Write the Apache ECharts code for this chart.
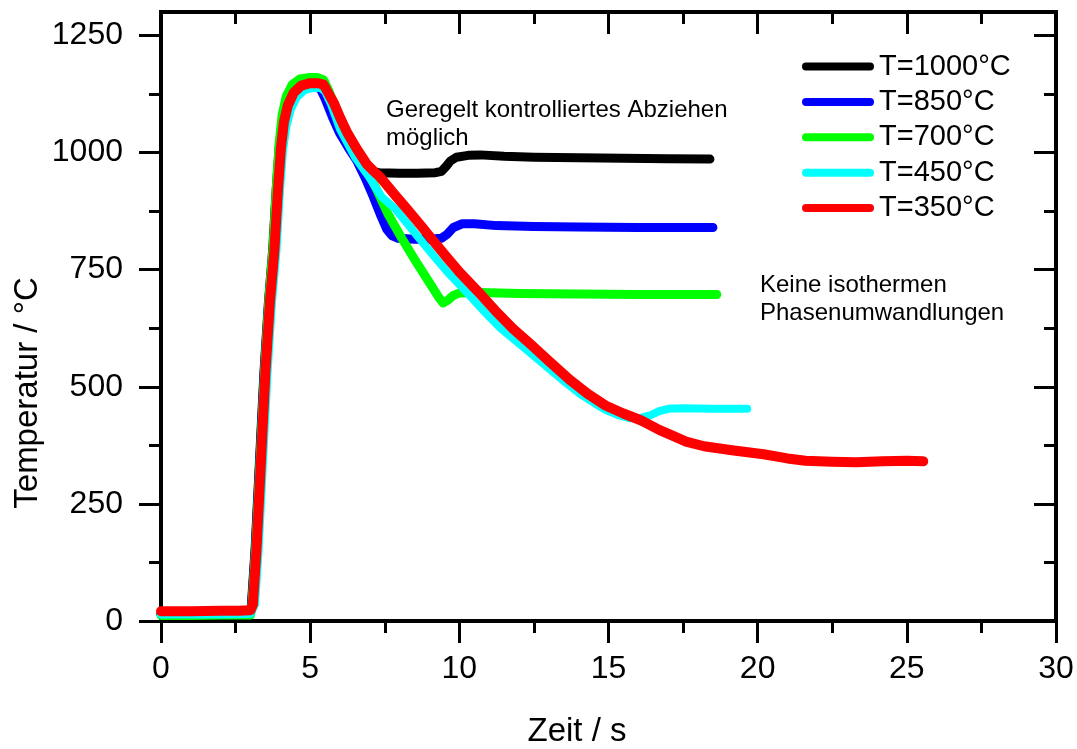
<!DOCTYPE html>
<html>
<head>
<meta charset="utf-8">
<script src="https://cdn.jsdelivr.net/npm/echarts@6/dist/echarts.min.js"></script>
<style>
  html, body { margin: 0; padding: 0; background: #fff; }
  #chart { width: 1077px; height: 749px; }
</style>
</head>
<body>
<div id="chart"></div>
<script>
// Temperature curves [time in s, temperature in °C]
const t1000 = [[0,15],[1,15],[2,15],[3.0,16],[3.03,35],[3.15,150],[3.3,340],[3.45,530],[3.6,680],[3.74,790],[3.86,920],[3.96,1010],[4.06,1065],[4.2,1098],[4.4,1122],[4.65,1136],[4.95,1140],[5.25,1140],[5.45,1138],[5.6,1125],[5.8,1102],[6.0,1072],[6.22,1042],[6.56,1005],[6.9,972],[7.1,960],[7.3,957],[8.0,956],[8.6,956],[9.2,957],[9.4,960],[9.55,970],[9.7,982],[9.9,990],[10.3,994],[10.7,995],[11.5,992],[12.5,990],[14,989],[15.5,988],[17,987],[18.4,986]];
const t850 = [[0,15],[1,15],[2,15],[3.0,16],[3.04,35],[3.16,150],[3.31,340],[3.46,530],[3.61,680],[3.76,790],[3.88,920],[3.98,1010],[4.08,1065],[4.22,1098],[4.42,1122],[4.67,1136],[4.95,1140],[5.2,1140],[5.35,1135],[5.5,1115],[5.75,1075],[6.0,1040],[6.3,1008],[6.56,983],[6.85,945],[7.12,905],[7.35,868],[7.57,836],[7.75,822],[7.95,817],[8.5,815],[9.0,815],[9.4,817],[9.6,826],[9.8,840],[10.1,848],[10.5,848],[11.25,844],[12.5,842],[14,841],[16,840],[18.5,840]];
const t700 = [[0,12],[1,12],[2,13],[3.0,13],[3.05,35],[3.17,150],[3.32,340],[3.47,530],[3.62,690],[3.76,800],[3.87,930],[3.96,1020],[4.06,1080],[4.2,1120],[4.4,1145],[4.65,1157],[4.95,1160],[5.25,1160],[5.45,1155],[5.6,1135],[5.8,1105],[6.0,1075],[6.22,1045],[6.5,1012],[6.8,975],[7.2,925],[7.6,870],[8.07,817],[8.5,772],[9.0,722],[9.3,692],[9.45,679],[9.6,684],[9.8,695],[10.0,700],[10.7,701],[12,699],[14,698],[16,697],[18.63,697]];
const t450 = [[0,14],[1,14],[2,14],[3.0,15],[3.15,35],[3.27,150],[3.42,340],[3.57,530],[3.72,680],[3.87,790],[3.99,920],[4.09,1005],[4.2,1055],[4.35,1092],[4.55,1118],[4.8,1133],[5.1,1138],[5.35,1138],[5.5,1130],[5.7,1103],[6.0,1050],[6.5,990],[6.95,950],[7.4,905],[7.85,880],[8.3,845],[8.72,812],[9.2,775],[9.6,745],[10.2,705],[10.8,663],[11.4,624],[12.05,590],[12.7,555],[13.45,515],[14.05,485],[14.7,458],[15.0,448],[15.3,440],[15.7,433],[16.1,434],[16.4,439],[16.7,448],[17.0,453],[17.5,454],[18.5,453],[19.65,453]];
const t350 = [[0,21],[1,21],[2,22],[2.6,22],[3.0,23],[3.08,35],[3.2,150],[3.35,340],[3.5,530],[3.65,680],[3.8,790],[3.92,920],[4.02,1010],[4.12,1065],[4.25,1100],[4.45,1128],[4.7,1143],[5.0,1148],[5.25,1148],[5.45,1145],[5.6,1128],[5.8,1105],[6.0,1075],[6.22,1045],[6.56,1008],[6.9,975],[7.1,962],[7.34,948],[7.9,905],[8.24,880],[8.7,845],[9.12,812],[9.6,775],[10.0,745],[10.6,705],[11.2,663],[11.8,624],[12.4,590],[13.0,555],[13.7,515],[14.3,485],[14.9,460],[15.5,443],[16.1,428],[16.7,408],[17.2,394],[17.6,383],[18.2,373],[19.2,364],[20.2,356],[21.0,347],[21.6,342],[22.5,340],[23.3,339],[24.2,341],[25.0,342],[25.55,341]];

const seriesNames = ['T=1000°C', 'T=850°C', 'T=700°C', 'T=450°C', 'T=350°C'];
const seriesData = [t1000, t850, t700, t450, t350];
const seriesColors = ['#000000', '#0000ff', '#00ff00', '#00ffff', '#ff0000'];
const seriesWidths = [9, 9, 9, 8, 10];

const xRange = [0, 30];
const xStep = 5;
const yRange = [0, 1300];
const yTickRange = [0, 1250];
const yStep = 250;

const FONT = "'Liberation Sans', Arial, sans-serif";

const chart = echarts.init(document.getElementById('chart'), null, { renderer: 'canvas' });

const tickLine = { color: '#000', width: 3 };
const plainNumber = v => String(v);

const option = {
  animation: false,
  backgroundColor: '#fff',
  grid: [
    { left: 161, right: 21, top: 12, bottom: 128, show: true, borderColor: '#000', borderWidth: 4, backgroundColor: 'transparent', containLabel: false },
    { left: 161, right: 21, top: 35.4, bottom: 128, show: false, containLabel: false }
  ],
  legend: {
    orient: 'vertical',
    left: 802,
    top: 52,
    padding: 0,
    itemWidth: 72,
    itemHeight: 8,
    itemGap: 6.4,
    icon: 'path://M4,0 L68,0 A4,4 0 0 1 68,8 L4,8 A4,4 0 0 1 4,0 Z',
    textStyle: { fontSize: 29, lineHeight: 29, color: '#000', fontFamily: FONT },
    data: seriesNames,
    selectedMode: false
  },
  xAxis: [
    {
      type: 'value', gridIndex: 0, position: 'bottom',
      min: xRange[0], max: xRange[1], interval: xStep,
      axisLine: { show: false },
      axisTick: { show: true, inside: false, length: 22, lineStyle: tickLine },
      minorTick: { show: true, splitNumber: 2, length: 12, lineStyle: tickLine },
      axisLabel: { fontSize: 32, color: '#000', fontFamily: FONT, margin: 32, formatter: plainNumber },
      splitLine: { show: false }, minorSplitLine: { show: false }
    },
    {
      type: 'value', gridIndex: 0, position: 'top',
      min: xRange[0], max: xRange[1], interval: xStep,
      axisLine: { show: false },
      axisTick: { show: true, inside: true, length: 22, lineStyle: tickLine },
      minorTick: { show: true, splitNumber: 2, length: 12, lineStyle: tickLine },
      axisLabel: { show: false },
      splitLine: { show: false }, minorSplitLine: { show: false }
    },
    {
      type: 'value', gridIndex: 1, show: false,
      min: xRange[0], max: xRange[1]
    }
  ],
  yAxis: [
    {
      type: 'value', gridIndex: 0, show: false,
      min: yRange[0], max: yRange[1]
    },
    {
      type: 'value', gridIndex: 1, position: 'left',
      min: yTickRange[0], max: yTickRange[1], interval: yStep,
      axisLine: { show: false },
      axisTick: { show: true, inside: false, length: 22, lineStyle: tickLine },
      minorTick: { show: true, splitNumber: 2, length: 12, lineStyle: tickLine },
      axisLabel: { fontSize: 32, color: '#000', fontFamily: FONT, margin: 38, formatter: plainNumber },
      splitLine: { show: false }, minorSplitLine: { show: false }
    },
    {
      type: 'value', gridIndex: 1, position: 'right',
      min: yTickRange[0], max: yTickRange[1], interval: yStep,
      axisLine: { show: false },
      axisTick: { show: true, inside: true, length: 22, lineStyle: tickLine },
      minorTick: { show: true, splitNumber: 2, length: 12, lineStyle: tickLine },
      axisLabel: { show: false },
      splitLine: { show: false }, minorSplitLine: { show: false }
    }
  ],
  series: seriesNames.map((name, i) => ({
    name: name,
    type: 'line',
    xAxisIndex: 0,
    yAxisIndex: 0,
    data: seriesData[i],
    symbol: 'none',
    showSymbol: false,
    smooth: false,
    color: seriesColors[i],
    itemStyle: { color: seriesColors[i] },
    lineStyle: { color: seriesColors[i], width: seriesWidths[i], cap: 'round', join: 'round' },
    emphasis: { disabled: true },
    z: 2 + i
  })),
  graphic: [
    {
      type: 'text', x: 577, y: 732,
      style: { text: 'Zeit / s', fill: '#000', font: '33px ' + FONT, align: 'center', verticalAlign: 'middle' }
    },
    {
      type: 'text', x: 28, y: 393, rotation: Math.PI / 2,
      style: { text: 'Temperatur / °C', fill: '#000', font: '33px ' + FONT, align: 'center', verticalAlign: 'middle' }
    },
    {
      type: 'text', x: 386, y: 96,
      style: { text: 'Geregelt kontrolliertes Abziehen\nmöglich', fill: '#000', font: '24px ' + FONT, lineHeight: 28, align: 'left', verticalAlign: 'top' }
    },
    {
      type: 'text', x: 760, y: 271,
      style: { text: 'Keine isothermen\nPhasenumwandlungen', fill: '#000', font: '24px ' + FONT, lineHeight: 28, align: 'left', verticalAlign: 'top' }
    }
  ]
};

chart.setOption(option);
</script>
</body>
</html>
